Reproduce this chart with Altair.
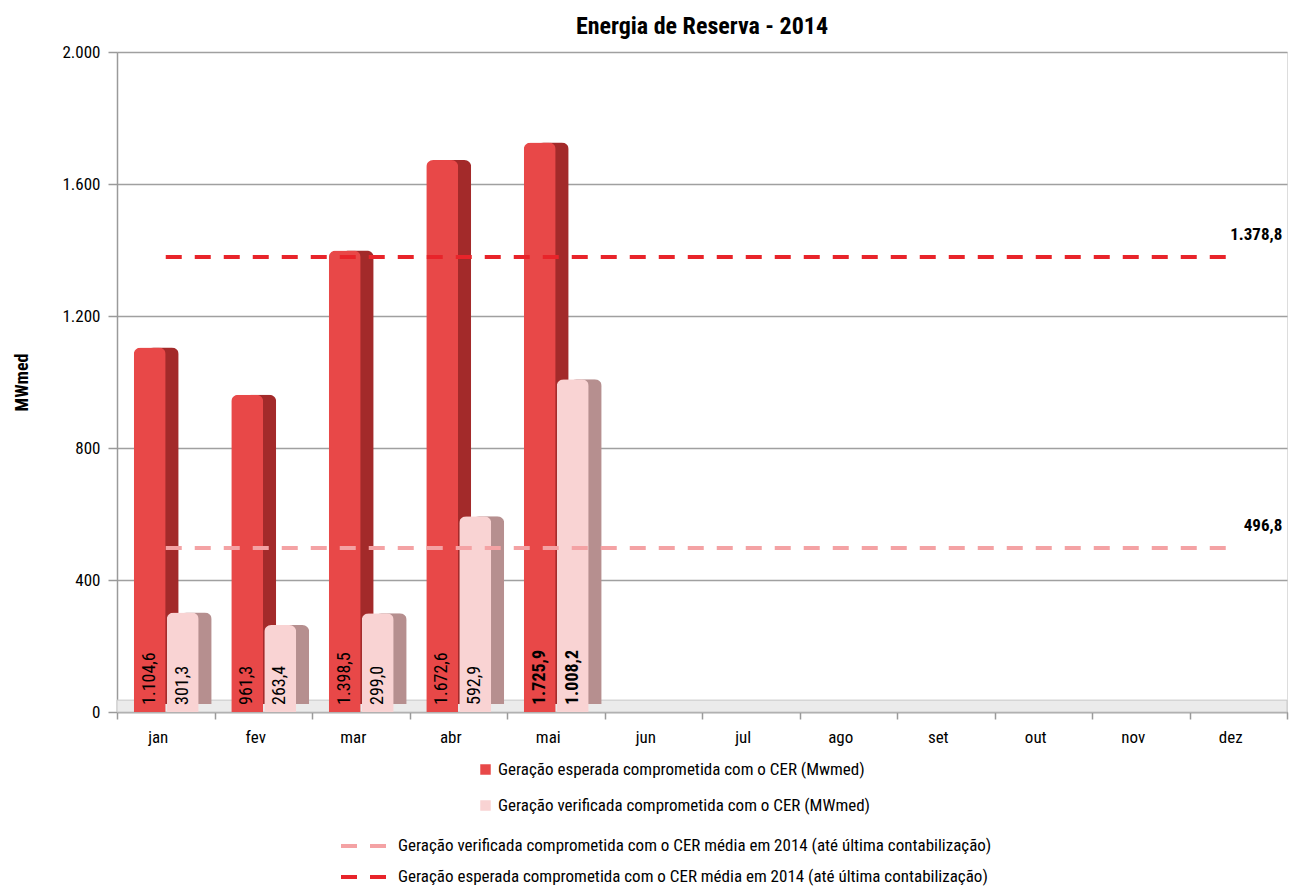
import altair as alt
import pandas as pd

meses = ["jan", "fev", "mar", "abr", "mai", "jun", "jul", "ago", "set", "out", "nov", "dez"]
esperada = [1104.6, 961.3, 1398.5, 1672.6, 1725.9]
verificada = [301.3, 263.4, 299.0, 592.9, 1008.2]
media_esperada = 1378.8
media_verificada = 496.8

s_esp = "Geração esperada comprometida com o CER (Mwmed)"
s_ver = "Geração verificada comprometida com o CER (MWmed)"
l_ver = "Geração verificada comprometida com o CER média em 2014 (até última contabilização)"
l_esp = "Geração esperada comprometida com o CER média em 2014 (até última contabilização)"

FONT = "Liberation Sans Narrow, Arial Narrow, Roboto Condensed, DejaVu Sans Condensed, sans-serif"


def br(v):
    s = f"{v:,.1f}"
    return s.replace(",", "X").replace(".", ",").replace("X", ".")


rows = []
for m, e, v in zip(meses, esperada, verificada):
    rows.append({"mes": m, "valor": e, "serie": s_esp, "rotulo": br(e), "bold": m == "mai"})
    rows.append({"mes": m, "valor": v, "serie": s_ver, "rotulo": br(v), "bold": m == "mai"})
bars = pd.DataFrame(rows)

lrows = []
for m in meses:
    lrows.append({"mes": m, "valor": media_verificada, "linha": l_ver})
    lrows.append({"mes": m, "valor": media_esperada, "linha": l_esp})
lines = pd.DataFrame(lrows)

lab = pd.DataFrame({
    "mes": ["dez", "dez"],
    "valor": [media_esperada, media_verificada],
    "rotulo": [br(media_esperada), br(media_verificada)],
})

x_enc = alt.X(
    "mes:N", sort=meses, title=None,
    scale=alt.Scale(domain=meses, paddingInner=0, paddingOuter=0),
    axis=alt.Axis(labelAngle=0, labelFontSize=17, labelFont=FONT, labelColor="black",
                  domainColor="#9a9a9a", domainWidth=1.5, tickColor="#9a9a9a",
                  tickWidth=1.5, tickSize=7, tickBand="extent", labelPadding=10,
                  labelOffset=-8, grid=False),
)
y_scale = alt.Scale(domain=[0, 2000], nice=False)
y_enc = alt.Y(
    "valor:Q", scale=y_scale, title="MWmed",
    axis=alt.Axis(values=[0, 400, 800, 1200, 1600, 2000],
                  labelExpr="replace(format(datum.value, ',d'), ',', '.')",
                  labelFontSize=17, labelFont=FONT, labelColor="black", labelPadding=8,
                  tickSize=9, tickColor="#9a9a9a", tickWidth=1.5,
                  domainColor="#9a9a9a", domainWidth=1.5,
                  grid=True, gridColor="#a0a0a0", gridWidth=1.5,
                  titleFont=FONT, titleFontSize=18, titleFontWeight="bold",
                  titleColor="black", titlePadding=30),
)

fill_scale = alt.Scale(domain=[s_esp, s_ver], range=["#e84848", "#f9d3d3"])
fill_legend = alt.Legend(title=None, orient="none", legendX=360, legendY=709,
                         symbolType="square", symbolSize=110, symbolStrokeWidth=0,
                         labelFontSize=17, labelFont=FONT, labelColor="black",
                         rowPadding=18, labelOffset=4, labelLimit=600)

floor = alt.Chart(pd.DataFrame({"a": [0], "b": [36]})).mark_rect(
    fill="#ebebeb", stroke="#c8c8c8", strokeWidth=1
).encode(y=alt.Y("a:Q", scale=y_scale), y2="b:Q")

ESP_OFF, VER_OFF, BW = -16, 17, 32


def bar_layers(serie, off, side):
    d = alt.Chart(bars).transform_filter(alt.datum.serie == serie)
    shadow = d.mark_bar(width=BW, xOffset=off + 13, yOffset=-8, fill=side,
                        cornerRadiusTopLeft=7, cornerRadiusTopRight=7).encode(x=x_enc, y=y_enc)
    fr = d.mark_bar(width=BW, xOffset=off, cornerRadiusTopLeft=7,
                    cornerRadiusTopRight=7).encode(
        x=x_enc, y=y_enc,
        fill=alt.Fill("serie:N", scale=fill_scale, legend=fill_legend),
    )
    # rotated 270 deg: dx moves along the text (upward), dy moves to the right
    txt_n = d.transform_filter("!datum.bold").mark_text(
        angle=270, align="left", baseline="middle", dx=7, dy=off,
        font=FONT, fontSize=18, color="black").encode(
        x=x_enc, y=alt.Y("zero:Q", scale=y_scale), text="rotulo:N"
    ).transform_calculate(zero="0")
    txt_b = d.transform_filter("datum.bold").mark_text(
        angle=270, align="left", baseline="middle", dx=7, dy=off,
        font=FONT, fontSize=18, fontWeight="bold", color="black").encode(
        x=x_enc, y=alt.Y("zero:Q", scale=y_scale), text="rotulo:N"
    ).transform_calculate(zero="0")
    return [shadow, fr, txt_n, txt_b]


esp_layers = bar_layers(s_esp, ESP_OFF, "#a32a2a")
ver_layers = bar_layers(s_ver, VER_OFF, "#b68f8f")


def line_legend(y):
    return alt.Legend(title=None, orient="none", legendX=222, legendY=y,
                      symbolType="stroke", symbolSize=2025, symbolStrokeWidth=4,
                      symbolDash=[16, 13], labelFontSize=17, labelFont=FONT,
                      labelColor="black", labelOffset=10, labelLimit=800)


line_ver = alt.Chart(lines).transform_filter(alt.datum.linha == l_ver).mark_line(
    strokeWidth=4, strokeDash=[16, 13]).encode(
    x=x_enc, y=y_enc,
    stroke=alt.Stroke("linha:N", scale=alt.Scale(domain=[l_ver], range=["#f4a2a4"]),
                      legend=line_legend(769.5)),
)
line_esp = alt.Chart(lines).transform_filter(alt.datum.linha == l_esp).mark_line(
    strokeWidth=4, strokeDash=[16, 13]).encode(
    x=x_enc, y=y_enc,
    color=alt.Color("linha:N", scale=alt.Scale(domain=[l_esp], range=["#e8242a"]),
                    legend=line_legend(800.5)),
)

line_labels = alt.Chart(lab).mark_text(
    align="right", baseline="bottom", dx=44, dy=-13,
    font=FONT, fontSize=17, fontWeight="bold", color="black"
).encode(x=x_enc, y=alt.Y("valor:Q", scale=y_scale), text="rotulo:N")

chart = alt.layer(
    floor, esp_layers[0], esp_layers[1], ver_layers[0], ver_layers[1],
    line_ver, line_esp, esp_layers[2], esp_layers[3], ver_layers[2], ver_layers[3],
    line_labels,
).properties(
    width=1170, height=660,
    title=alt.Title("Energia de Reserva - 2014", font=FONT, fontSize=24,
                    fontWeight="bold", color="black", offset=4),
    autosize=alt.AutoSizeParams(type="none"),
    padding={"left": 109, "top": 44, "right": 4, "bottom": 178},
).configure_view(strokeWidth=0).configure(background="white")

chart.save("out.html", embed_options={"renderer": "svg", "actions": False})
